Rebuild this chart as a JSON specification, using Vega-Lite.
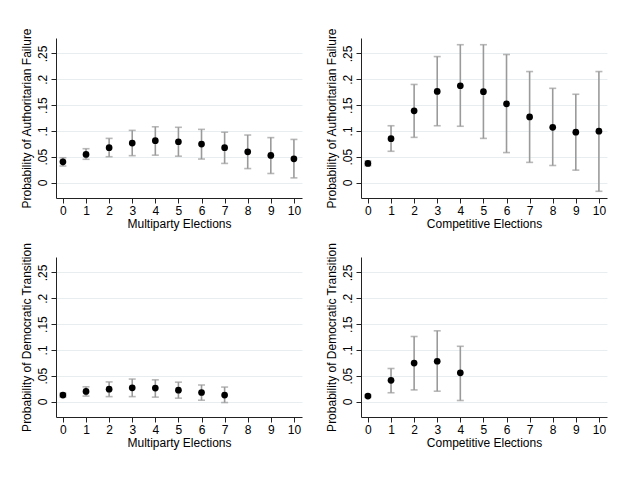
{
  "$schema": "https://vega.github.io/schema/vega-lite/v6.json",
  "padding": {"left": 20, "top": 27, "right": 5, "bottom": 5},
  "background": "white",
  "config": {
    "font": "Liberation Sans",
    "view": {"stroke": null},
    "axis": {
      "labelFont": "Liberation Sans",
      "titleFont": "Liberation Sans",
      "labelFontSize": 12,
      "titleFontSize": 12,
      "titleFontWeight": "normal",
      "labelColor": "#000000",
      "titleColor": "#000000",
      "domainColor": "#222222",
      "tickColor": "#222222",
      "domainWidth": 1,
      "tickWidth": 1,
      "tickSize": 5,
      "gridColor": "#e8eef0",
      "gridWidth": 1,
      "labelOverlap": false,
      "labelBound": false,
      "labelFlush": false
    },
    "axisX": {"grid": false, "labelPadding": 2, "titlePadding": 2, "labelAngle": 0},
    "axisY": {
      "grid": true,
      "labelAngle": -90,
      "labelAlign": "center",
      "labelBaseline": "bottom",
      "labelPadding": 1.5,
      "titlePadding": 3
    }
  },
  "data": {
    "values": [
      {"outcome": "Authoritarian Failure", "type": "Multiparty", "elections": 0, "prob": 0.040, "lo": 0.032, "hi": 0.048},
      {"outcome": "Authoritarian Failure", "type": "Multiparty", "elections": 1, "prob": 0.0545, "lo": 0.045, "hi": 0.0655},
      {"outcome": "Authoritarian Failure", "type": "Multiparty", "elections": 2, "prob": 0.0675, "lo": 0.050, "hi": 0.0855},
      {"outcome": "Authoritarian Failure", "type": "Multiparty", "elections": 3, "prob": 0.0765, "lo": 0.052, "hi": 0.101},
      {"outcome": "Authoritarian Failure", "type": "Multiparty", "elections": 4, "prob": 0.081, "lo": 0.053, "hi": 0.108},
      {"outcome": "Authoritarian Failure", "type": "Multiparty", "elections": 5, "prob": 0.079, "lo": 0.051, "hi": 0.107},
      {"outcome": "Authoritarian Failure", "type": "Multiparty", "elections": 6, "prob": 0.0745, "lo": 0.0455, "hi": 0.103},
      {"outcome": "Authoritarian Failure", "type": "Multiparty", "elections": 7, "prob": 0.0675, "lo": 0.037, "hi": 0.0975},
      {"outcome": "Authoritarian Failure", "type": "Multiparty", "elections": 8, "prob": 0.0595, "lo": 0.027, "hi": 0.092},
      {"outcome": "Authoritarian Failure", "type": "Multiparty", "elections": 9, "prob": 0.0525, "lo": 0.0175, "hi": 0.087},
      {"outcome": "Authoritarian Failure", "type": "Multiparty", "elections": 10, "prob": 0.046, "lo": 0.009, "hi": 0.0835},

      {"outcome": "Authoritarian Failure", "type": "Competitive", "elections": 0, "prob": 0.037, "lo": 0.0325, "hi": 0.0415},
      {"outcome": "Authoritarian Failure", "type": "Competitive", "elections": 1, "prob": 0.085, "lo": 0.0605, "hi": 0.110},
      {"outcome": "Authoritarian Failure", "type": "Competitive", "elections": 2, "prob": 0.139, "lo": 0.0875, "hi": 0.190},
      {"outcome": "Authoritarian Failure", "type": "Competitive", "elections": 3, "prob": 0.1765, "lo": 0.110, "hi": 0.244},
      {"outcome": "Authoritarian Failure", "type": "Competitive", "elections": 4, "prob": 0.1875, "lo": 0.109, "hi": 0.267},
      {"outcome": "Authoritarian Failure", "type": "Competitive", "elections": 5, "prob": 0.176, "lo": 0.0855, "hi": 0.267},
      {"outcome": "Authoritarian Failure", "type": "Competitive", "elections": 6, "prob": 0.1525, "lo": 0.058, "hi": 0.248},
      {"outcome": "Authoritarian Failure", "type": "Competitive", "elections": 7, "prob": 0.127, "lo": 0.039, "hi": 0.215},
      {"outcome": "Authoritarian Failure", "type": "Competitive", "elections": 8, "prob": 0.107, "lo": 0.033, "hi": 0.1825},
      {"outcome": "Authoritarian Failure", "type": "Competitive", "elections": 9, "prob": 0.0975, "lo": 0.024, "hi": 0.171},
      {"outcome": "Authoritarian Failure", "type": "Competitive", "elections": 10, "prob": 0.0995, "lo": -0.017, "hi": 0.215},

      {"outcome": "Democratic Transition", "type": "Multiparty", "elections": 0, "prob": 0.0125, "lo": 0.0085, "hi": 0.016},
      {"outcome": "Democratic Transition", "type": "Multiparty", "elections": 1, "prob": 0.0195, "lo": 0.0105, "hi": 0.0285},
      {"outcome": "Democratic Transition", "type": "Multiparty", "elections": 2, "prob": 0.024, "lo": 0.0095, "hi": 0.038},
      {"outcome": "Democratic Transition", "type": "Multiparty", "elections": 3, "prob": 0.0265, "lo": 0.0095, "hi": 0.0435},
      {"outcome": "Democratic Transition", "type": "Multiparty", "elections": 4, "prob": 0.026, "lo": 0.0085, "hi": 0.042},
      {"outcome": "Democratic Transition", "type": "Multiparty", "elections": 5, "prob": 0.022, "lo": 0.0065, "hi": 0.0375},
      {"outcome": "Democratic Transition", "type": "Multiparty", "elections": 6, "prob": 0.0175, "lo": 0.0025, "hi": 0.032},
      {"outcome": "Democratic Transition", "type": "Multiparty", "elections": 7, "prob": 0.0125, "lo": -0.002, "hi": 0.028},

      {"outcome": "Democratic Transition", "type": "Competitive", "elections": 0, "prob": 0.0105, "lo": 0.008, "hi": 0.013},
      {"outcome": "Democratic Transition", "type": "Competitive", "elections": 1, "prob": 0.041, "lo": 0.017, "hi": 0.064},
      {"outcome": "Democratic Transition", "type": "Competitive", "elections": 2, "prob": 0.0745, "lo": 0.0225, "hi": 0.126},
      {"outcome": "Democratic Transition", "type": "Competitive", "elections": 3, "prob": 0.078, "lo": 0.020, "hi": 0.137},
      {"outcome": "Democratic Transition", "type": "Competitive", "elections": 4, "prob": 0.0555, "lo": 0.002, "hi": 0.107}
    ]
  },
  "columns": 2,
  "bounds": "flush",
  "spacing": {"row": 59, "column": 59},
  "concat": [
    {
      "width": 246, "height": 160,
      "transform": [{"filter": "datum.outcome === 'Authoritarian Failure' && datum.type === 'Multiparty'"}],
      "encoding": {
        "x": {"field": "elections", "type": "quantitative", "title": "Multiparty Elections",
              "scale": {"domain": [-0.3, 10.35], "nice": false, "zero": false},
              "axis": {"values": [0, 1, 2, 3, 4, 5, 6, 7, 8, 9, 10]}},
        "y": {"field": "prob", "type": "quantitative", "title": "Probability of Authoritarian Failure",
              "scale": {"domain": [-0.03, 0.28], "nice": false, "zero": false},
              "axis": {"values": [0, 0.05, 0.1, 0.15, 0.2, 0.25], "labelExpr": "replace(format(datum.value, '~g'), '0.', '.')"}}
      },
      "layer": [
        {
          "mark": {"type": "rule", "color": "#9a9a9a", "strokeWidth": 1.6},
          "encoding": {"y": {"field": "lo", "type": "quantitative"}, "y2": {"field": "hi"}}
        },
        {
          "mark": {"type": "tick", "color": "#9a9a9a", "thickness": 1.6, "size": 7, "orient": "horizontal"},
          "encoding": {"y": {"field": "lo", "type": "quantitative"}}
        },
        {
          "mark": {"type": "tick", "color": "#9a9a9a", "thickness": 1.6, "size": 7, "orient": "horizontal"},
          "encoding": {"y": {"field": "hi", "type": "quantitative"}}
        },
        {
          "mark": {"type": "point", "filled": true, "color": "#000000", "opacity": 1, "size": 45},
          "encoding": {}
        }
      ]
    },
    {
      "width": 246, "height": 160,
      "transform": [{"filter": "datum.outcome === 'Authoritarian Failure' && datum.type === 'Competitive'"}],
      "encoding": {
        "x": {"field": "elections", "type": "quantitative", "title": "Competitive Elections",
              "scale": {"domain": [-0.3, 10.35], "nice": false, "zero": false},
              "axis": {"values": [0, 1, 2, 3, 4, 5, 6, 7, 8, 9, 10]}},
        "y": {"field": "prob", "type": "quantitative", "title": "Probability of Authoritarian Failure",
              "scale": {"domain": [-0.03, 0.28], "nice": false, "zero": false},
              "axis": {"values": [0, 0.05, 0.1, 0.15, 0.2, 0.25], "labelExpr": "replace(format(datum.value, '~g'), '0.', '.')"}}
      },
      "layer": [
        {
          "mark": {"type": "rule", "color": "#9a9a9a", "strokeWidth": 1.6},
          "encoding": {"y": {"field": "lo", "type": "quantitative"}, "y2": {"field": "hi"}}
        },
        {
          "mark": {"type": "tick", "color": "#9a9a9a", "thickness": 1.6, "size": 7, "orient": "horizontal"},
          "encoding": {"y": {"field": "lo", "type": "quantitative"}}
        },
        {
          "mark": {"type": "tick", "color": "#9a9a9a", "thickness": 1.6, "size": 7, "orient": "horizontal"},
          "encoding": {"y": {"field": "hi", "type": "quantitative"}}
        },
        {
          "mark": {"type": "point", "filled": true, "color": "#000000", "opacity": 1, "size": 45},
          "encoding": {}
        }
      ]
    },
    {
      "width": 246, "height": 160,
      "transform": [{"filter": "datum.outcome === 'Democratic Transition' && datum.type === 'Multiparty'"}],
      "encoding": {
        "x": {"field": "elections", "type": "quantitative", "title": "Multiparty Elections",
              "scale": {"domain": [-0.3, 10.35], "nice": false, "zero": false},
              "axis": {"values": [0, 1, 2, 3, 4, 5, 6, 7, 8, 9, 10]}},
        "y": {"field": "prob", "type": "quantitative", "title": "Probability of Democratic Transition",
              "scale": {"domain": [-0.03, 0.28], "nice": false, "zero": false},
              "axis": {"values": [0, 0.05, 0.1, 0.15, 0.2, 0.25], "labelExpr": "replace(format(datum.value, '~g'), '0.', '.')"}}
      },
      "layer": [
        {
          "mark": {"type": "rule", "color": "#9a9a9a", "strokeWidth": 1.6},
          "encoding": {"y": {"field": "lo", "type": "quantitative"}, "y2": {"field": "hi"}}
        },
        {
          "mark": {"type": "tick", "color": "#9a9a9a", "thickness": 1.6, "size": 7, "orient": "horizontal"},
          "encoding": {"y": {"field": "lo", "type": "quantitative"}}
        },
        {
          "mark": {"type": "tick", "color": "#9a9a9a", "thickness": 1.6, "size": 7, "orient": "horizontal"},
          "encoding": {"y": {"field": "hi", "type": "quantitative"}}
        },
        {
          "mark": {"type": "point", "filled": true, "color": "#000000", "opacity": 1, "size": 45},
          "encoding": {}
        }
      ]
    },
    {
      "width": 246, "height": 160,
      "transform": [{"filter": "datum.outcome === 'Democratic Transition' && datum.type === 'Competitive'"}],
      "encoding": {
        "x": {"field": "elections", "type": "quantitative", "title": "Competitive Elections",
              "scale": {"domain": [-0.3, 10.35], "nice": false, "zero": false},
              "axis": {"values": [0, 1, 2, 3, 4, 5, 6, 7, 8, 9, 10]}},
        "y": {"field": "prob", "type": "quantitative", "title": "Probability of Democratic Transition",
              "scale": {"domain": [-0.03, 0.28], "nice": false, "zero": false},
              "axis": {"values": [0, 0.05, 0.1, 0.15, 0.2, 0.25], "labelExpr": "replace(format(datum.value, '~g'), '0.', '.')"}}
      },
      "layer": [
        {
          "mark": {"type": "rule", "color": "#9a9a9a", "strokeWidth": 1.6},
          "encoding": {"y": {"field": "lo", "type": "quantitative"}, "y2": {"field": "hi"}}
        },
        {
          "mark": {"type": "tick", "color": "#9a9a9a", "thickness": 1.6, "size": 7, "orient": "horizontal"},
          "encoding": {"y": {"field": "lo", "type": "quantitative"}}
        },
        {
          "mark": {"type": "tick", "color": "#9a9a9a", "thickness": 1.6, "size": 7, "orient": "horizontal"},
          "encoding": {"y": {"field": "hi", "type": "quantitative"}}
        },
        {
          "mark": {"type": "point", "filled": true, "color": "#000000", "opacity": 1, "size": 45},
          "encoding": {}
        }
      ]
    }
  ]
}
